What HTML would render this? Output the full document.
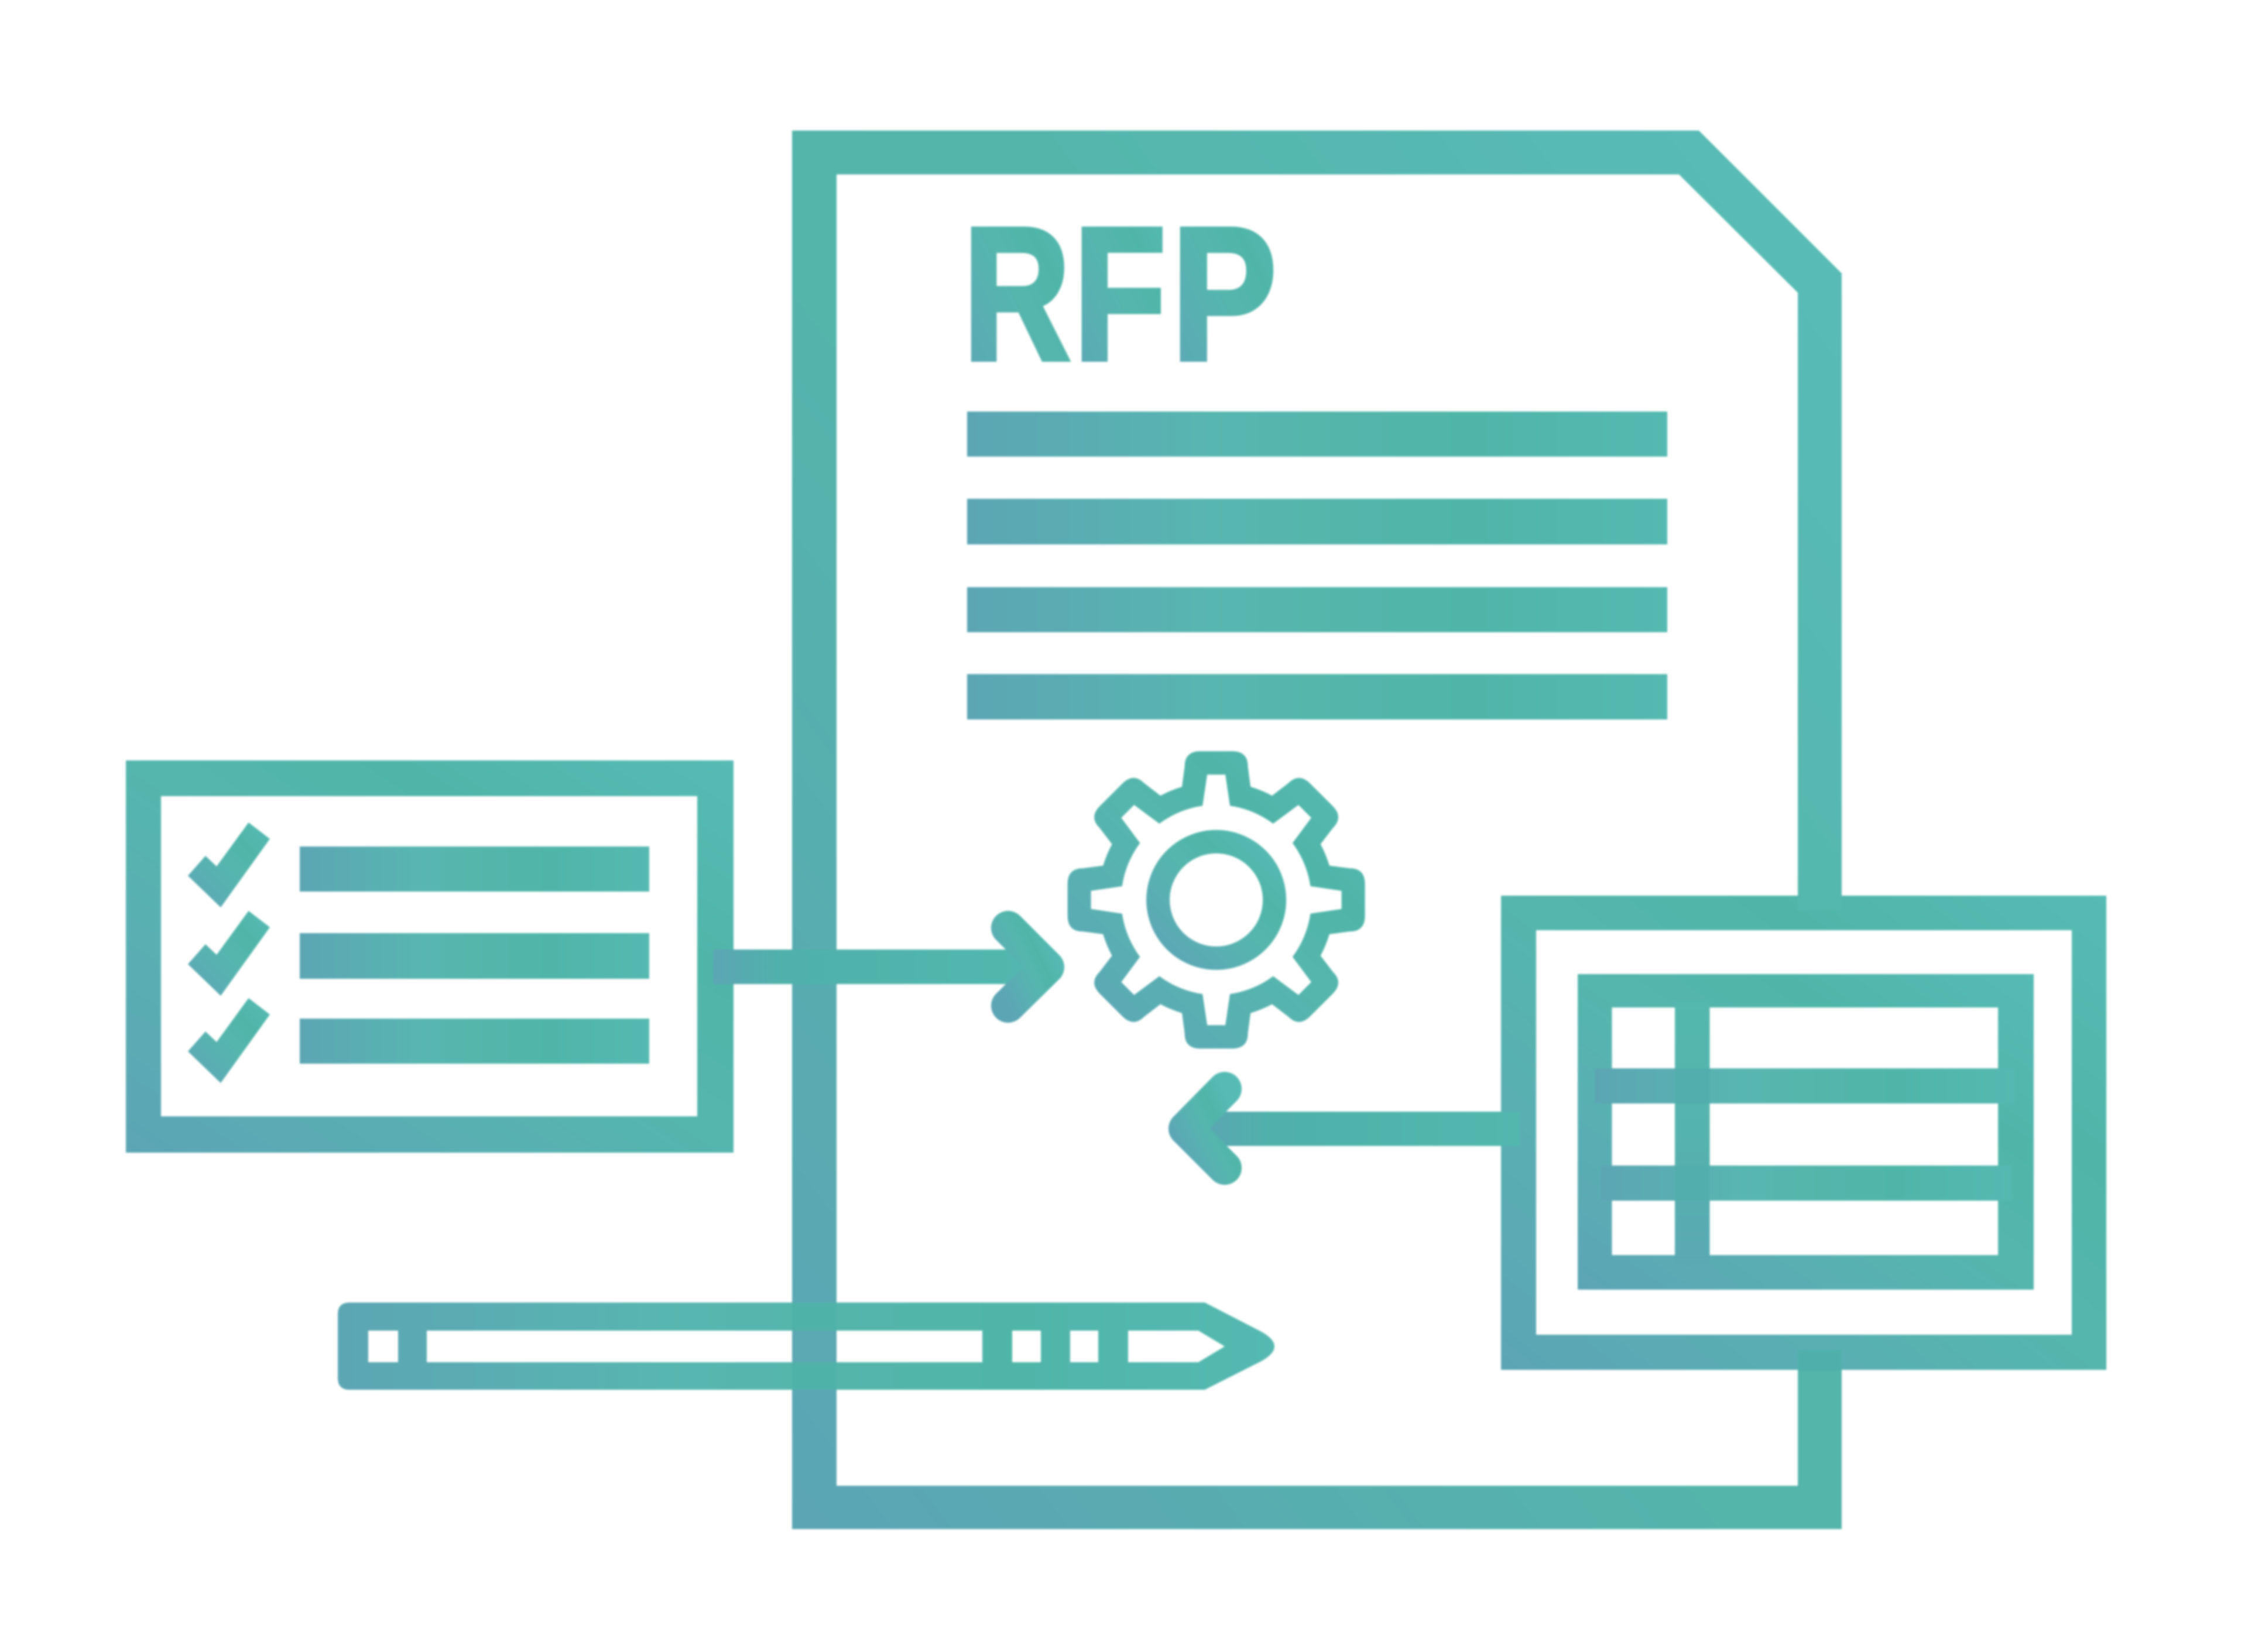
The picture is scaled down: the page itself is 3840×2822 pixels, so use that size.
<!DOCTYPE html>
<html>
<head>
<meta charset="utf-8">
<title>RFP</title>
<style>
html,body{margin:0;padding:0;background:#fff;width:3840px;height:2822px;overflow:hidden}
svg{display:block;filter:blur(1.6px)}
text{font-family:"Liberation Sans",sans-serif;font-weight:bold}
</style>
</head>
<body>
<svg xmlns="http://www.w3.org/2000/svg" width="3840" height="2822" viewBox="0 0 3840 2822">
<defs>
<linearGradient id="g" x1="0" y1="1" x2="1" y2="0">
<stop offset="0" stop-color="#5ca5b5"/>
<stop offset=".25" stop-color="#5aaeb3"/>
<stop offset=".5" stop-color="#55b6ad"/>
<stop offset=".72" stop-color="#50b5a9"/>
<stop offset="1" stop-color="#57bbb5"/>
</linearGradient>
<linearGradient id="h" x1="0" y1="0" x2="1" y2="0">
<stop offset="0" stop-color="#5ca6b4"/>
<stop offset=".35" stop-color="#58b6b0"/>
<stop offset=".5" stop-color="#55b6ac"/>
<stop offset=".72" stop-color="#50b5a9"/>
<stop offset="1" stop-color="#55b9b1"/>
</linearGradient>
<linearGradient id="v" x1="0" y1="1" x2="0" y2="0">
<stop offset="0" stop-color="#5aa9b3"/>
<stop offset=".5" stop-color="#55b3ad"/>
<stop offset="1" stop-color="#54b8ae"/>
</linearGradient>
<linearGradient id="s" x1="0" y1="0" x2="1" y2="0">
<stop offset="0" stop-color="#5ca6b4"/>
<stop offset=".22" stop-color="#4fb1aa"/>
<stop offset="1" stop-color="#52b8ae"/>
</linearGradient>
<linearGradient id="d" x1="0" y1="1" x2="1" y2="0">
<stop offset="0" stop-color="#5ca5b5"/>
<stop offset=".45" stop-color="#54b5ab"/>
<stop offset=".6" stop-color="#54b6ab"/>
<stop offset="1" stop-color="#59bcb8"/>
</linearGradient>
<mask id="gm" maskUnits="userSpaceOnUse" x="1800" y="1260" width="560" height="560">
<g transform="translate(2077.6 1537.3)">
<circle r="202" fill="#fff"/>
<g fill="#fff">
<path d="M-59,-190L-54,-228Q-54,-254 -27,-254H27Q54,-254 54,-228L59,-190Z"/>
<path transform="rotate(45)" d="M-59,-190L-54,-228Q-54,-254 -27,-254H27Q54,-254 54,-228L59,-190Z"/>
<path transform="rotate(90)" d="M-59,-190L-54,-228Q-54,-254 -27,-254H27Q54,-254 54,-228L59,-190Z"/>
<path transform="rotate(135)" d="M-59,-190L-54,-228Q-54,-254 -27,-254H27Q54,-254 54,-228L59,-190Z"/>
<path transform="rotate(180)" d="M-59,-190L-54,-228Q-54,-254 -27,-254H27Q54,-254 54,-228L59,-190Z"/>
<path transform="rotate(225)" d="M-59,-190L-54,-228Q-54,-254 -27,-254H27Q54,-254 54,-228L59,-190Z"/>
<path transform="rotate(270)" d="M-59,-190L-54,-228Q-54,-254 -27,-254H27Q54,-254 54,-228L59,-190Z"/>
<path transform="rotate(315)" d="M-59,-190L-54,-228Q-54,-254 -27,-254H27Q54,-254 54,-228L59,-190Z"/>
</g>
<circle r="162.5" fill="#000"/>
<g fill="#000">
<path d="M-25,-150L-15.5,-214H15.5L25,-150Z"/>
<path transform="rotate(45)" d="M-25,-150L-15.5,-214H15.5L25,-150Z"/>
<path transform="rotate(90)" d="M-25,-150L-15.5,-214H15.5L25,-150Z"/>
<path transform="rotate(135)" d="M-25,-150L-15.5,-214H15.5L25,-150Z"/>
<path transform="rotate(180)" d="M-25,-150L-15.5,-214H15.5L25,-150Z"/>
<path transform="rotate(225)" d="M-25,-150L-15.5,-214H15.5L25,-150Z"/>
<path transform="rotate(270)" d="M-25,-150L-15.5,-214H15.5L25,-150Z"/>
<path transform="rotate(315)" d="M-25,-150L-15.5,-214H15.5L25,-150Z"/>
</g>
</g>
</mask>
</defs>

<rect width="3840" height="2822" fill="#fff"/>

<!-- document -->
<path fill="url(#d)" fill-rule="evenodd" d="M1353,223H2902L3146,467V2612H1353ZM1429,298V2538H3071V500L2868,298Z"/>

<!-- RFP -->
<g fill="url(#g)" stroke="url(#g)" stroke-width="9" font-size="322.7">
<text transform="translate(1645.5 613.5) scale(.784 1)">R</text>
<text transform="translate(1834 613.5) scale(.8 1)">F</text>
<text transform="translate(2001.5 613.5) scale(.832 1)">P</text>
</g>

<!-- doc lines -->
<g fill="url(#h)">
<rect x="1652" y="703" width="1196" height="77"/>
<rect x="1652" y="852" width="1196" height="78"/>
<rect x="1652" y="1003" width="1196" height="77"/>
<rect x="1652" y="1151.5" width="1196" height="77.5"/>
</g>

<!-- gear -->
<rect x="1823" y="1283" width="510" height="509" fill="url(#g)" mask="url(#gm)"/>
<circle cx="2077.6" cy="1537.3" r="99.5" fill="none" stroke="url(#g)" stroke-width="40"/>

<!-- checklist box -->
<path fill="#fff" d="M215,1299H1253V1969H215Z"/>
<path fill="url(#g)" fill-rule="evenodd" d="M215,1299H1253V1969H215ZM275,1360V1907H1191V1360Z"/>
<g fill="url(#h)">
<rect x="512" y="1446" width="597" height="77"/>
<rect x="512" y="1594" width="597" height="78"/>
<rect x="512" y="1740" width="597" height="77"/>
</g>
<g fill="url(#g)">
<path d="M424.6,1405L461,1433L377,1550L321,1496L351,1462L370,1480Z"/>
<path d="M424.6,1556L461,1584L377,1701L321,1647L351,1613L370,1631Z"/>
<path d="M424.6,1705L461,1733L377,1850L321,1796L351,1762L370,1780Z"/>
</g>

<!-- right-pointing arrow -->
<rect x="1218" y="1622" width="540" height="59" fill="url(#s)"/>
<path d="M1722,1585L1789,1652L1722,1718" fill="none" stroke="url(#g)" stroke-width="58" stroke-linecap="round" stroke-linejoin="round"/>

<!-- table box -->
<path fill="#fff" d="M2564,1530H3598V2340H2564Z"/>
<path fill="url(#g)" fill-rule="evenodd" d="M2564,1530H3598V2340H2564ZM2624,1589V2280H3539V1589Z"/>
<rect x="3071" y="1500" width="74" height="55" fill="#54b8ae"/>
<rect x="3071" y="2306" width="74" height="36" fill="#4fb0aa"/>
<path fill="url(#g)" fill-rule="evenodd" d="M2695,1664H3474V2203H2695ZM2753.5,1721V2144H3413V1721Z"/>
<rect x="2724" y="1825" width="717" height="60" fill="url(#h)"/>
<rect x="2734" y="1991" width="702" height="60" fill="url(#h)"/>
<rect x="2861" y="1712" width="59.5" height="448" fill="url(#v)"/>
<rect x="2861" y="1825" width="59.5" height="60" fill="#51aeac"/>
<rect x="2861" y="1991" width="59.5" height="60" fill="#52aeac"/>

<!-- left-pointing arrow -->
<rect x="2050" y="1899" width="546" height="58.5" fill="url(#s)"/>
<path d="M2092,1860L2025,1928L2092,1995" fill="none" stroke="url(#g)" stroke-width="58" stroke-linecap="round" stroke-linejoin="round"/>

<!-- pencil -->
<path fill="url(#h)" fill-rule="evenodd" d="M597,2225H2058L2155,2275Q2199,2300 2155,2325L2058,2374H597Q577,2374 577,2354V2245Q577,2225 597,2225ZM629,2273V2327H680V2273ZM729,2273V2327H1678V2273ZM1729,2273V2327H1778V2273ZM1828,2273V2327H1876V2273ZM1927,2273V2327H2047L2092,2300L2047,2273Z"/>
<rect x="1353" y="2273" width="76" height="54" fill="#5ca8b3"/>
<rect x="1353" y="2225" width="76" height="48" fill="#4fb2a9"/>
<rect x="1353" y="2327" width="76" height="47" fill="#4fb2a9"/>
</svg>
</body>
</html>
